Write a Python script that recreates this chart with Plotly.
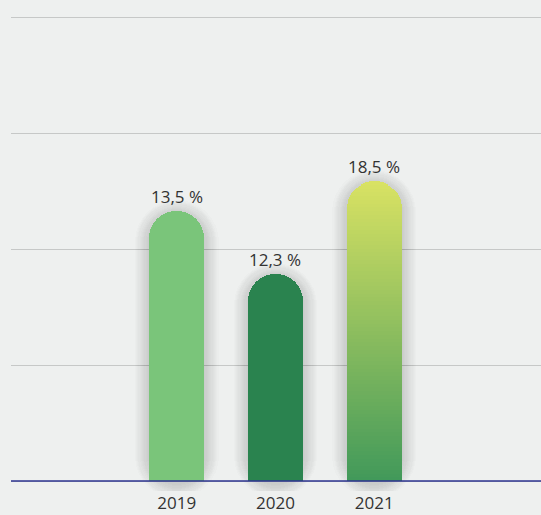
import numpy as np
import plotly.graph_objects as go

# ---- data ----
years = ["2019", "2020", "2021"]
bar_heights = [11.64, 8.92, 12.93]          # drawn bar heights, axis units (grid step 5)
label_values = [13.5, 12.3, 18.5]           # printed value labels (%)
bottom_colors = ["#7ac57a", "#2a834f", "#41995a"]
top_colors = ["#7ac57a", "#2a834f", "#d9e263"]
y_ticks = [0, 5, 10, 15, 20]

# ---- layout constants ----
W, H = 541, 515
ML, MR, MT, MB = 11, 0, 0, 24
x_range = [-1.678, 3.689]
y_range = [-0.431, 20.733]
pxu_x = (W - ML - MR) / (x_range[1] - x_range[0])
pxu_y = (H - MT - MB) / (y_range[1] - y_range[0])
bar_w = 55 / pxu_x
FONT = "Open Sans"
TXT = "#333333"


def hex2rgb(h):
    h = h.lstrip("#")
    return np.array([int(h[i:i + 2], 16) for i in (0, 2, 4)], dtype=float)


fig = go.Figure()

# soft shadow (base subplot, drawn beneath): concentric translucent layers
K = 12
for k in range(K, 0, -1):
    spread = k * 1.2
    dy = 3.0
    tops = [h + (spread - dy) / pxu_y for h in bar_heights]
    base = -(spread + dy) / pxu_y
    fig.add_trace(go.Bar(
        x=years, y=[t - base for t in tops], base=[base] * len(years),
        width=bar_w + 2 * spread / pxu_x,
        marker=dict(color="rgba(0,0,0,0.011)", line=dict(width=0),
                    cornerradius=27.5 + spread),
        hoverinfo="skip", showlegend=False, xaxis="x", yaxis="y",
    ))

# bars (overlay subplot): stacked segments (gradient) sharing one rounded top
N = 80
for yr, h, c0, c1 in zip(years, bar_heights, bottom_colors, top_colors):
    if c0 == c1:
        segs = [(h, c0)]
    else:
        a, b = hex2rgb(c0), hex2rgb(c1)
        segs = []
        for i in range(N):
            f = (i + 0.5) / N
            c = a + (b - a) * f
            segs.append((h / N, "rgb(%d,%d,%d)" % tuple(np.round(c))))
    for dh, col in segs:
        fig.add_trace(go.Bar(
            x=[yr], y=[dh], width=bar_w,
            marker=dict(color=col, line=dict(width=0), cornerradius="50%"),
            hoverinfo="skip", showlegend=False, xaxis="x2", yaxis="y2",
        ))

# value labels
for i, (h, v) in enumerate(zip(bar_heights, label_values)):
    fig.add_annotation(
        x=i, y=h, xref="x", yref="y", yanchor="bottom", yshift=1, showarrow=False,
        text=("%.1f" % v).replace(".", ",") + " %",
        font=dict(family=FONT, size=17, color=TXT),
    )

# baseline
fig.add_shape(type="line", xref="paper", x0=0, x1=1, yref="y", y0=0, y1=0,
              line=dict(color="#2c3590", width=1.5), layer="above")

hidden_x = dict(type="category", categoryorder="array", categoryarray=years,
                range=x_range, showgrid=False, showline=False, zeroline=False,
                ticks="", fixedrange=True, automargin=False)
fig.update_layout(
    width=W, height=H,
    margin=dict(l=ML, r=MR, t=MT, b=MB, pad=0),
    paper_bgcolor="#eef0ef", plot_bgcolor="#eef0ef",
    barmode="stack", bargap=0,
    showlegend=False,
    font=dict(family=FONT, size=17, color=TXT),
    xaxis=dict(hidden_x, tickfont=dict(family=FONT, size=17, color=TXT),
               ticklabelstandoff=0),
    xaxis2=dict(hidden_x, overlaying="x", showticklabels=False),
    yaxis=dict(range=y_range, tickvals=y_ticks, showticklabels=False,
               showgrid=True, gridcolor="#c6c8c7", gridwidth=1,
               zeroline=False, showline=False, ticks="", fixedrange=True,
               automargin=False),
    yaxis2=dict(range=y_range, overlaying="y", showticklabels=False,
                showgrid=False, zeroline=False, showline=False, ticks="",
                fixedrange=True, automargin=False),
)

fig.write_html("out.html", config={"displayModeBar": False},
               post_script="document.body.style.margin='0';document.body.style.overflow='hidden';")
